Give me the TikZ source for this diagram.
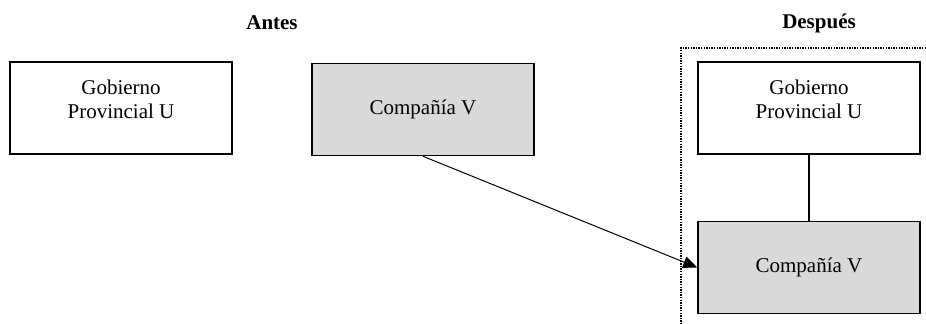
\documentclass[tikz,border=0pt]{standalone}
\usepackage{fontspec}
\setmainfont{Liberation Serif}
\usetikzlibrary{arrows.meta}
\definecolor{boxgray}{HTML}{D9D9D9}
\tikzset{
  entity/.style={draw, line width=0.8pt, minimum width=111pt, minimum height=46pt,
    align=center, font=\fontsize{10.5}{12}\selectfont},
  boxtext/.style={align=center, font=\fontsize{10.5}{12}\selectfont},
  heading/.style={font=\fontsize{10.5}{12}\selectfont\bfseries},
}

\begin{document}
\begin{tikzpicture}[x=0.5pt, y=-0.5pt]
              \useasboundingbox (0,0) rectangle (926,324);
              \node[heading] (antes) at (272,23) {Antes};
              \node[heading] (despues) at (819,23) {Después};
              \node[entity] (gobA) at (121,108) {};
              \node[boxtext] (gobAtext) at ([yshift=4.5pt]gobA.center) {Gobierno\\Provincial U};
              \node[entity, fill=boxgray] (compA) at (423,109.5) {Compañía V};
              \node[entity] (gobD) at (809,108) {};
              \node[boxtext] (gobDtext) at ([yshift=4.5pt]gobD.center) {Gobierno\\Provincial U};
              \node[entity, fill=boxgray] (compD) at (809,267.5) {Compañía V};
              \draw[line width=1pt, dash pattern=on 0.7pt off 0.6pt] (926,48) -- (681,48) -- (681,324);
              \draw[line width=0.8pt] (gobD) -- (compD);
              \draw[line width=0.5pt, -{Triangle[length=7pt,width=6pt]}] (compA.south) -- (compD.west);
          \end{tikzpicture}
\end{document}
